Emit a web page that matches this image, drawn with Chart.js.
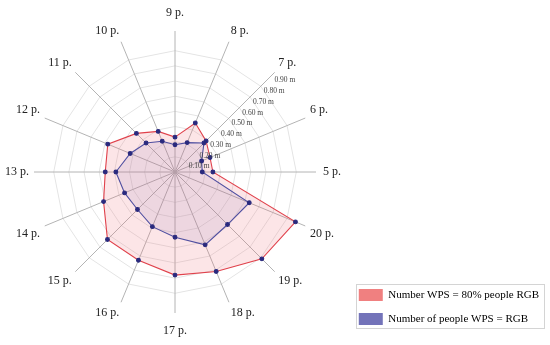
<!DOCTYPE html>
<html>
<head>
<meta charset="utf-8">
<script src="https://cdn.jsdelivr.net/npm/chart.js@4"></script>
<style>
  html, body { margin: 0; padding: 0; background: #fff; }
  #wrap { width: 550px; height: 345px; }
</style>
</head>
<body>
<div id="wrap"><canvas id="radarChart"></canvas></div>
<script>
const ctx = document.getElementById('radarChart');

const pointNames = ['9 p.', '8 p.', '7 p.', '6 p.', '5 p.', '20 p.', '19 p.', '18 p.',
                    '17 p.', '16 p.', '15 p.', '14 p.', '13 p.', '12 p.', '11 p.', '10 p.'];

const seriesNames = ['Number WPS = 80% people RGB', 'Number of people WPS = RGB'];

const wps80Values = [0.23, 0.35, 0.29, 0.25, 0.25, 0.86, 0.81, 0.71,
                     0.68, 0.63, 0.63, 0.51, 0.46, 0.48, 0.36, 0.29];
const wpsRgbValues = [0.18, 0.21, 0.27, 0.19, 0.18, 0.53, 0.49, 0.52,
                      0.43, 0.39, 0.35, 0.36, 0.39, 0.32, 0.27, 0.22];

const tickValues = [0.1, 0.2, 0.3, 0.4, 0.5, 0.6, 0.7, 0.8, 0.9];
const tickLabels = ['0.10 m', '0.20 m', '0.30 m', '0.40 m', '0.50 m', '0.60 m', '0.70 m', '0.80 m', '0.90 m'];

const legendColors = ['#f08080', '#7373b9'];
const serif = 'Liberation Serif';

// tick labels sit beside the 7 p. spoke, horizontal
const tickLabelPlugin = {
  id: 'tickLabels',
  afterDatasetsDraw(chart) {
    const scale = chart.scales.r;
    const idx = pointNames.indexOf('7 p.');
    const c = chart.ctx;
    c.save();
    c.font = '7.5px "' + serif + '"';
    c.fillStyle = '#444';
    c.textAlign = 'left';
    c.textBaseline = 'middle';
    tickValues.forEach((v, i) => {
      const p = scale.getPointPositionForValue(idx, v);
      c.fillText(tickLabels[i], p.x + 3, p.y + 5);
    });
    c.restore();
  }
};

// thin frame round the legend
const legendFrame = {
  id: 'legendFrame',
  afterDraw(chart) {
    const boxes = chart.legend.legendHitBoxes;
    if (!boxes || !boxes.length) return;
    const left = Math.min(...boxes.map(b => b.left)) - 3;
    const top = Math.min(...boxes.map(b => b.top)) - 5;
    const right = Math.max(...boxes.map(b => b.left + b.width)) + 5;
    const bottom = Math.max(...boxes.map(b => b.top + b.height)) + 3;
    const c = chart.ctx;
    c.save();
    c.strokeStyle = '#d4d4d4';
    c.lineWidth = 1;
    c.strokeRect(Math.round(left) + 0.5, Math.round(top) + 0.5, Math.round(right - left), Math.round(bottom - top));
    c.restore();
  }
};

new Chart(ctx, {
  type: 'radar',
  data: {
    labels: pointNames,
    datasets: [
      {
        label: seriesNames[0],
        data: wps80Values,
        borderColor: '#e0414b',
        backgroundColor: 'rgba(240, 110, 120, 0.18)',
        borderWidth: 1.1,
        fill: true,
        pointRadius: 1.9,
        pointBackgroundColor: '#2a2a7e',
        pointBorderColor: '#2a2a7e',
        order: 1
      },
      {
        label: seriesNames[1],
        data: wpsRgbValues,
        borderColor: '#4f4fa0',
        backgroundColor: 'rgba(110, 90, 170, 0.10)',
        borderWidth: 1.1,
        fill: true,
        pointRadius: 1.9,
        pointBackgroundColor: '#2a2a7e',
        pointBorderColor: '#2a2a7e',
        order: 0
      }
    ]
  },
  options: {
    responsive: true,
    maintainAspectRatio: false,
    animation: false,
    layout: { padding: { top: 7, bottom: 8, left: 0, right: 1 } },
    scales: {
      r: {
        min: 0,
        max: 0.93,
        ticks: { display: false, stepSize: 0.1 },
        grid: {
          color: (c) => (c.tick && c.tick.value > 0.91) ? 'rgba(0,0,0,0)' : '#e4e4e4',
          lineWidth: 1
        },
        angleLines: { color: '#b4b4b4', lineWidth: 1 },
        pointLabels: {
          font: { family: serif, size: 12, lineHeight: 1 },
          color: '#222',
          padding: (c) => (c.index === 0 || c.index === 8) ? 12 : (c.index === 4 ? 7 : 5)
        }
      }
    },
    plugins: {
      legend: {
        position: 'right',
        align: 'end',
        labels: {
          boxWidth: 24,
          boxHeight: 12,
          padding: 12,
          color: '#222',
          font: { family: serif, size: 11 },
          generateLabels: () => seriesNames.map((name, i) => ({
            text: name,
            fillStyle: legendColors[i],
            strokeStyle: legendColors[i],
            lineWidth: 0,
            datasetIndex: i,
            hidden: false
          }))
        }
      },
      tooltip: { enabled: false }
    }
  },
  plugins: [tickLabelPlugin, legendFrame]
});
</script>
</body>
</html>
